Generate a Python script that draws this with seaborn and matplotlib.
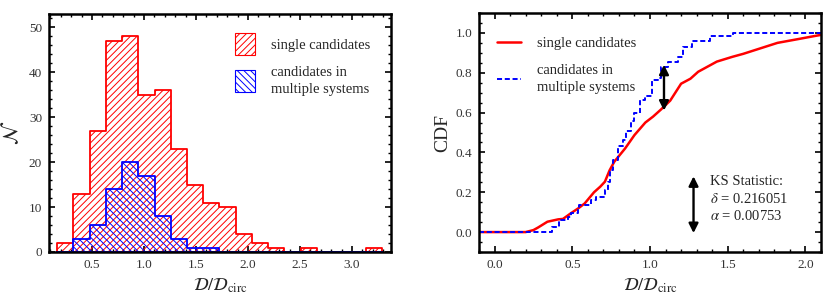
import numpy as np
import pandas as pd
import matplotlib
matplotlib.use("Agg")
import matplotlib.pyplot as plt
import matplotlib.patches as mpatches
from matplotlib.lines import Line2D
from matplotlib.ticker import MultipleLocator
import seaborn as sns

# ---------------- data ----------------
bin_edges = [0.166, 0.322, 0.478, 0.634, 0.790, 0.946, 1.102, 1.258, 1.414, 1.570,
             1.726, 1.882, 2.038, 2.194, 2.350, 2.506, 2.662, 2.818, 2.974, 3.130, 3.286]
single_counts = [2, 13, 27, 47, 48, 35, 36, 23, 15, 11, 10, 4, 2, 1, 0, 1, 0, 0, 0, 1]
multi_counts = [0, 3, 6, 14, 20, 17, 8, 3, 1, 1, 0, 0, 0, 0, 0, 0, 0, 0, 0, 0]

single_cdf_x = [-0.1, 0.2, 0.25, 0.28, 0.34, 0.41, 0.44, 0.49, 0.54, 0.58, 0.64, 0.68, 0.71,
                0.74, 0.77, 0.84, 0.9, 0.97, 1.02, 1.07, 1.13, 1.2, 1.26, 1.31, 1.43, 1.53,
                1.6, 1.74, 1.82, 1.96, 2.07, 2.1]
single_cdf_y = [0, 0, 0.01, 0.023, 0.052, 0.064, 0.066, 0.094, 0.12, 0.144, 0.2, 0.228, 0.253,
                0.31, 0.353, 0.42, 0.487, 0.55, 0.58, 0.615, 0.66, 0.745, 0.77, 0.805, 0.856, 0.88,
                0.895, 0.93, 0.95, 0.97, 0.986, 0.99]

multi_cdf_x = [-0.1, 0.37, 0.415, 0.47, 0.49, 0.535, 0.546, 0.622, 0.654, 0.708, 0.729, 0.74,
               0.761, 0.794, 0.826, 0.847, 0.88, 0.90, 0.933, 0.966, 1.01, 1.05, 1.073, 1.116,
               1.18, 1.21, 1.267, 1.385, 1.535, 2.1]
multi_cdf_y = [0, 0.027, 0.06, 0.077, 0.094, 0.127, 0.137, 0.16, 0.178, 0.21, 0.25, 0.31,
               0.36, 0.43, 0.46, 0.51, 0.56, 0.60, 0.663, 0.685, 0.764, 0.775, 0.83, 0.856,
               0.88, 0.93, 0.959, 0.986, 1.0, 1.0]

ks_delta = "0.216051"
ks_alpha = "0.00753"
label_single = "single candidates"
label_multi = "candidates in\nmultiple systems"
xlabel = r"$\mathcal{D}/\mathcal{D}_{\rm circ}$"

# ---------------- style ----------------
sns.set_theme(style="white")
plt.rcParams["font.family"] = ["Liberation Serif", "DejaVu Serif"]
plt.rcParams["mathtext.fontset"] = "stix"
plt.rcParams["hatch.linewidth"] = 0.7
plt.rcParams["xtick.direction"] = "in"
plt.rcParams["ytick.direction"] = "in"

fig = plt.figure(figsize=(8.3, 3.07), dpi=100)
ax1 = fig.add_axes([49 / 830, 55 / 307, 342 / 830, 238 / 307])
ax2 = fig.add_axes([479 / 830, 55 / 307, 342 / 830, 239 / 307])

edges = np.array(bin_edges)
centers = (edges[:-1] + edges[1:]) / 2
hist_df = pd.DataFrame({"x": centers, "single": single_counts, "multi": multi_counts})

RED_HATCH = "/////"
BLUE_HATCH = "\\\\\\\\\\"

# left: histograms
sns.histplot(data=hist_df, x="x", weights="single", bins=bin_edges, element="step",
             fill=True, ax=ax1, color="red", linewidth=1.3)
poly = ax1.collections[-1]
poly.set_facecolor("none")
poly.set_edgecolor("red")
poly.set_hatch(RED_HATCH)
sns.histplot(data=hist_df, x="x", weights="multi", bins=bin_edges, element="step",
             fill=True, ax=ax1, color="blue", linewidth=1.3)
poly = ax1.collections[-1]
poly.set_facecolor("none")
poly.set_edgecolor("blue")
poly.set_hatch(BLUE_HATCH)

ax1.set_xlim(0.087, 3.375)
ax1.set_ylim(0, 53)
ax1.xaxis.set_major_locator(MultipleLocator(0.5))
ax1.xaxis.set_minor_locator(MultipleLocator(0.1))
ax1.yaxis.set_major_locator(MultipleLocator(10))
ax1.yaxis.set_minor_locator(MultipleLocator(2))
ax1.set_xlabel(xlabel, fontsize=13)
ax1.set_ylabel(r"$\mathcal{N}$", fontsize=15, labelpad=4)

h1 = mpatches.Patch(facecolor="white", edgecolor="red", hatch=RED_HATCH, linewidth=0.8)
h2 = mpatches.Patch(facecolor="white", edgecolor="blue", hatch=BLUE_HATCH, linewidth=0.8)
leg1 = ax1.legend([h1, h2], [label_single, label_multi], loc="upper right", frameon=False,
                  fontsize=10.5, handlelength=1.4, handleheight=1.9, labelspacing=0.75,
                  handletextpad=1.1, bbox_to_anchor=(0.978, 0.975))
for t in leg1.get_texts():
    t.set_linespacing(1.4)

# right: CDFs
DASH = (0, (2.6, 1.4))
cdf_single = pd.DataFrame({"x": single_cdf_x, "y": single_cdf_y})
cdf_multi = pd.DataFrame({"x": multi_cdf_x, "y": multi_cdf_y})
sns.lineplot(data=cdf_single, x="x", y="y", ax=ax2, color="red", linewidth=1.8,
             estimator=None, sort=False)
sns.lineplot(data=cdf_multi, x="x", y="y", ax=ax2, color="blue", linewidth=1.4,
             estimator=None, sort=False, drawstyle="steps-post", dashes=False,
             linestyle=DASH)

ax2.set_xlim(-0.1, 2.1)
ax2.set_ylim(-0.1, 1.1)
ax2.xaxis.set_major_locator(MultipleLocator(0.5))
ax2.xaxis.set_minor_locator(MultipleLocator(0.1))
ax2.yaxis.set_major_locator(MultipleLocator(0.2))
ax2.yaxis.set_minor_locator(MultipleLocator(0.05))
ax2.set_xlabel(xlabel, fontsize=13)
ax2.set_ylabel("CDF", fontsize=14, labelpad=3)

lh1 = Line2D([], [], color="red", linewidth=1.8)
lh2 = Line2D([], [], color="blue", linewidth=1.4, linestyle=DASH)
leg2 = ax2.legend([lh1, lh2], [label_single, label_multi], loc="upper left", frameon=False,
                  fontsize=10.5, handlelength=1.6, labelspacing=0.95, handletextpad=1.1,
                  bbox_to_anchor=(0.015, 0.955))
for t in leg2.get_texts():
    t.set_linespacing(1.4)

arrow_kw = dict(arrowstyle="<|-|>", color="black", lw=1.7, mutation_scale=14,
                shrinkA=0, shrinkB=0)
ax2.annotate("", xy=(1.09, 0.84), xytext=(1.09, 0.61), arrowprops=arrow_kw)
ax2.annotate("", xy=(1.28, 0.28), xytext=(1.28, -0.005), arrowprops=arrow_kw)
ax2.text(1.385, 0.285, "KS Statistic:\n" + r"$\delta$ = " + ks_delta + "\n" + r"$\alpha$ = " + ks_alpha,
         fontsize=10.5, va="top", ha="left", linespacing=1.3)

for ax in (ax1, ax2):
    for s in ax.spines.values():
        s.set_visible(True)
        s.set_color("black")
        s.set_linewidth(1.8)
    ax.tick_params(which="both", direction="in", top=True, right=True, bottom=True, left=True,
                   labelsize=9.5, colors="black", labelcolor="#333333")
    ax.tick_params(which="major", length=4, width=1.2, pad=5)
    ax.tick_params(which="minor", length=2.5, width=1.0)
    ax.grid(False)

fig.savefig("out.png", dpi=100)
